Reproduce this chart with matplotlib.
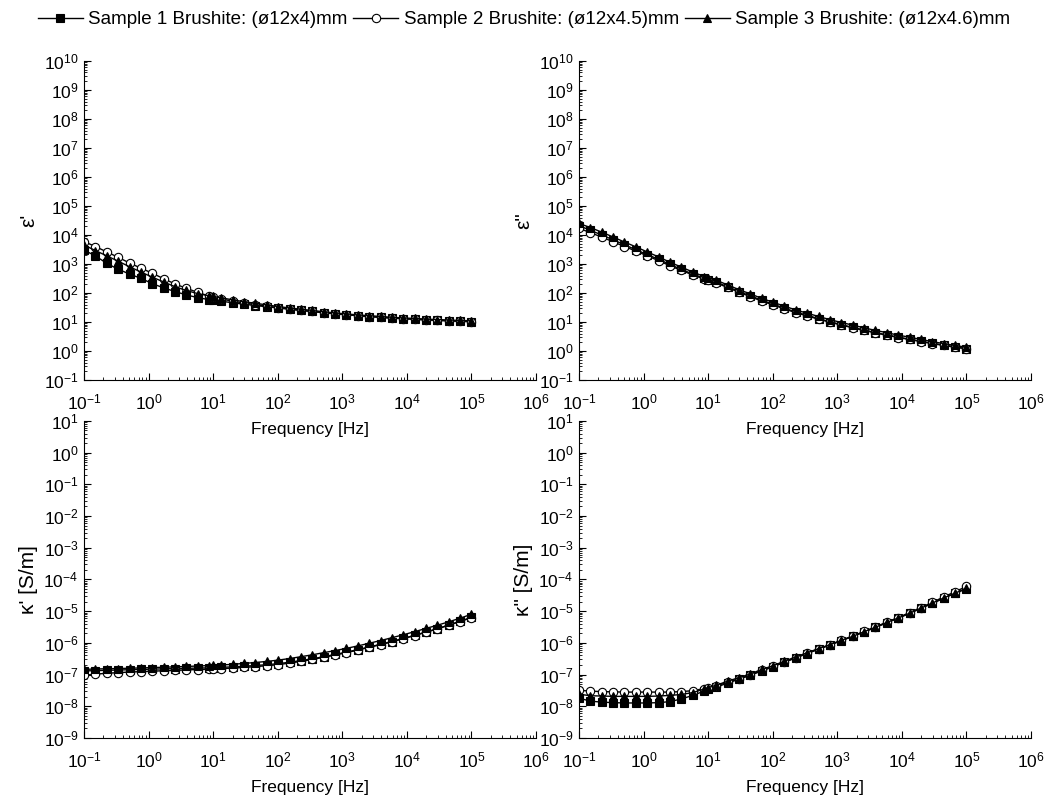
import numpy as np
import matplotlib
matplotlib.use("Agg")
import matplotlib.pyplot as plt
from matplotlib.ticker import LogLocator, NullFormatter

plt.rcParams['font.family'] = ['Liberation Sans', 'DejaVu Sans']
plt.rcParams['mathtext.fontset'] = 'custom'
plt.rcParams['mathtext.rm'] = 'Liberation Sans'

# measurement frequencies [Hz]
freq = [0.1, 0.15, 0.225, 0.338, 0.506, 0.759, 1.14, 1.71, 2.56, 3.84, 5.77, 8.65,
        10.0, 13.4, 20.0, 30.1, 45.1, 67.7, 101, 152, 228, 343, 514, 771,
        1156, 1734, 2601, 3902, 5853, 8779, 13169, 19753, 29630, 44444, 66667, 100000]

labels = ["Sample 1 Brushite: (ø12x4)mm",
          "Sample 2 Brushite: (ø12x4.5)mm",
          "Sample 3 Brushite: (ø12x4.6)mm"]

# eps'
eps1_s1 = [3000, 1900, 1050, 660, 450, 320, 210, 150, 112, 86, 69, 59, 56, 52, 46, 41, 37, 33.5,
           30.5, 27.5, 25, 23, 21, 19.3, 17.8, 16.5, 15.4, 14.5, 13.7, 13.0, 12.4, 11.9, 11.4, 11.0, 10.6, 10.3]
eps1_s2 = [5900, 4000, 2600, 1700, 1080, 720, 480, 310, 205, 145, 105, 78, 72, 62, 52, 45, 40, 35,
           31.5, 28, 25.5, 23, 21, 19.3, 17.8, 16.5, 15.4, 14.5, 13.7, 13.0, 12.4, 11.9, 11.4, 11.0, 10.6, 10.3]
eps1_s3 = [4500, 2900, 1900, 1250, 800, 530, 350, 240, 165, 122, 95, 80, 76, 68, 58, 50, 44, 39,
           34, 30.5, 27.5, 25, 22.5, 20.5, 19, 17.5, 16.5, 15.5, 14.5, 13.8, 13.2, 12.6, 12.1, 11.7, 11.3, 11.0]

# eps''
eps2_s1 = [21000, 14500, 10000, 6800, 4600, 3100, 2100, 1450, 960, 650, 450, 320, 290, 235, 165, 112, 80, 56,
           41, 30, 22, 17, 13, 10.2, 8.1, 6.5, 5.3, 4.3, 3.6, 3.0, 2.55, 2.15, 1.85, 1.6, 1.4, 1.2]
eps2_s2 = [17000, 12000, 8500, 5800, 4000, 2800, 1900, 1300, 870, 600, 420, 300, 270, 220, 155, 105, 75, 52,
           39, 28, 21, 16, 12.5, 9.8, 7.8, 6.3, 5.1, 4.2, 3.5, 2.9, 2.5, 2.1, 1.8, 1.55, 1.35, 1.2]
eps2_s3 = [25000, 18000, 12500, 8500, 5700, 3900, 2600, 1750, 1150, 780, 530, 370, 335, 275, 190, 130, 93, 65,
           48, 35, 26, 20, 15.5, 12, 9.6, 7.8, 6.3, 5.1, 4.3, 3.5, 3.0, 2.5, 2.1, 1.8, 1.55, 1.35]

# kappa' [S/m]
kap1_s1 = [1.3e-7, 1.33e-7, 1.36e-7, 1.39e-7, 1.42e-7, 1.45e-7, 1.48e-7, 1.51e-7, 1.54e-7, 1.57e-7, 1.6e-7, 1.63e-7,
           1.65e-7, 1.69e-7, 1.75e-7, 1.83e-7, 1.93e-7, 2.05e-7, 2.2e-7, 2.45e-7, 2.75e-7, 3.15e-7, 3.65e-7, 4.3e-7,
           5.1e-7, 6.1e-7, 7.4e-7, 9.0e-7, 1.1e-6, 1.38e-6, 1.73e-6, 2.2e-6, 2.8e-6, 3.65e-6, 4.8e-6, 6.4e-6]
kap1_s2 = [9.5e-8, 1.03e-7, 1.1e-7, 1.15e-7, 1.2e-7, 1.24e-7, 1.28e-7, 1.32e-7, 1.36e-7, 1.4e-7, 1.44e-7, 1.48e-7,
           1.5e-7, 1.54e-7, 1.6e-7, 1.68e-7, 1.78e-7, 1.9e-7, 2.05e-7, 2.3e-7, 2.6e-7, 3.0e-7, 3.5e-7, 4.1e-7,
           4.9e-7, 5.9e-7, 7.2e-7, 8.8e-7, 1.08e-6, 1.35e-6, 1.7e-6, 2.15e-6, 2.75e-6, 3.6e-6, 4.7e-6, 6.2e-6]
kap1_s3 = [1.45e-7, 1.5e-7, 1.52e-7, 1.55e-7, 1.58e-7, 1.62e-7, 1.66e-7, 1.7e-7, 1.75e-7, 1.8e-7, 1.86e-7, 1.92e-7,
           1.95e-7, 2.0e-7, 2.1e-7, 2.25e-7, 2.4e-7, 2.6e-7, 2.85e-7, 3.2e-7, 3.65e-7, 4.2e-7, 4.9e-7, 5.7e-7,
           6.7e-7, 8.0e-7, 9.7e-7, 1.18e-6, 1.45e-6, 1.8e-6, 2.25e-6, 2.85e-6, 3.6e-6, 4.6e-6, 6.0e-6, 8.0e-6]

# kappa'' [S/m]
kap2_s1 = [1.8e-8, 1.45e-8, 1.35e-8, 1.3e-8, 1.27e-8, 1.27e-8, 1.27e-8, 1.3e-8, 1.4e-8, 1.7e-8, 2.2e-8, 3.0e-8,
           3.4e-8, 4.0e-8, 5.4e-8, 7.1e-8, 9.5e-8, 1.3e-7, 1.75e-7, 2.45e-7, 3.35e-7, 4.6e-7, 6.3e-7, 8.5e-7,
           1.17e-6, 1.6e-6, 2.2e-6, 3.05e-6, 4.3e-6, 6.0e-6, 8.5e-6, 1.22e-5, 1.75e-5, 2.55e-5, 3.65e-5, 5.1e-5]
kap2_s2 = [3.2e-8, 3.0e-8, 2.9e-8, 2.85e-8, 2.8e-8, 2.8e-8, 2.8e-8, 2.8e-8, 2.8e-8, 2.9e-8, 3.1e-8, 3.6e-8,
           3.9e-8, 4.4e-8, 5.7e-8, 7.4e-8, 9.8e-8, 1.35e-7, 1.8e-7, 2.5e-7, 3.4e-7, 4.7e-7, 6.4e-7, 8.7e-7,
           1.2e-6, 1.65e-6, 2.3e-6, 3.2e-6, 4.5e-6, 6.3e-6, 9.0e-6, 1.3e-5, 1.9e-5, 2.8e-5, 4.1e-5, 6.0e-5]
kap2_s3 = [2.4e-8, 2.15e-8, 2.1e-8, 2.05e-8, 2.05e-8, 2.05e-8, 2.05e-8, 2.1e-8, 2.2e-8, 2.35e-8, 2.7e-8, 3.5e-8,
           3.9e-8, 4.6e-8, 6.2e-8, 8.0e-8, 1.05e-7, 1.45e-7, 1.9e-7, 2.65e-7, 3.6e-7, 4.9e-7, 6.6e-7, 8.8e-7,
           1.2e-6, 1.6e-6, 2.25e-6, 3.1e-6, 4.4e-6, 6.1e-6, 8.6e-6, 1.25e-5, 1.8e-5, 2.6e-5, 3.7e-5, 5.2e-5]

panels = [
    ([eps1_s1, eps1_s2, eps1_s3], "ε'", (1e-1, 1e10)),
    ([eps2_s1, eps2_s2, eps2_s3], 'ε"', (1e-1, 1e10)),
    ([kap1_s1, kap1_s2, kap1_s3], "κ' [S/m]", (1e-9, 1e1)),
    ([kap2_s1, kap2_s2, kap2_s3], 'κ" [S/m]', (1e-9, 1e1)),
]

rects = [
    [0.0802, 0.5256, 0.4313, 0.3983],
    [0.5525, 0.5256, 0.4313, 0.3983],
    [0.0802, 0.0787, 0.4313, 0.3958],
    [0.5525, 0.0787, 0.4313, 0.3958],
]

styles = [
    dict(marker='s', mfc='black', mec='black'),
    dict(marker='o', mfc='white', mec='black'),
    dict(marker='^', mfc='black', mec='black'),
]

fig = plt.figure(figsize=(10.48, 8.01), dpi=100)
handles = []
for (series, ylab, ylim), rect in zip(panels, rects):
    ax = fig.add_axes(rect)
    ax.patch.set_visible(False)
    handles = []
    for vals, st in zip(series, styles):
        h, = ax.plot(freq, vals, color='black', lw=1, ms=6, mew=0.8, **st)
        handles.append(h)
    ax.set_xscale('log')
    ax.set_yscale('log')
    ax.set_xlim(1e-1, 1e6)
    ax.set_ylim(*ylim)
    ax.xaxis.set_major_locator(LogLocator(base=10, numticks=20))
    ax.yaxis.set_major_locator(LogLocator(base=10, numticks=20))
    ax.xaxis.set_minor_locator(LogLocator(base=10, subs=np.arange(2, 10), numticks=100))
    ax.yaxis.set_minor_locator(LogLocator(base=10, subs=np.arange(2, 10), numticks=100))
    ax.xaxis.set_minor_formatter(NullFormatter())
    ax.yaxis.set_minor_formatter(NullFormatter())
    ax.spines['top'].set_visible(False)
    ax.spines['right'].set_visible(False)
    ax.tick_params(which='major', direction='in', length=5, width=0.8, labelsize=12.5, pad=4)
    ax.tick_params(axis='x', which='major', pad=9)
    ax.tick_params(which='minor', direction='in', length=2.5, width=0.6)
    ax.set_xlabel("Frequency [Hz]", fontsize=12.5, labelpad=7)
    ax.set_ylabel(ylab, fontsize=15)

fig.legend(handles, labels, loc='upper center', bbox_to_anchor=(0.5, 1.0), ncol=3,
           frameon=False, fontsize=13.5, handlelength=2.4, handletextpad=0.3,
           columnspacing=0.3, borderaxespad=0.2)

fig.savefig("out.png", dpi=100)
